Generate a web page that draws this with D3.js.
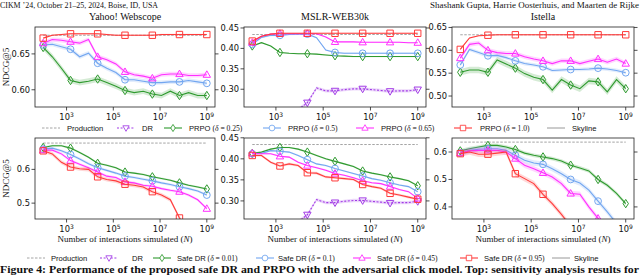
<!DOCTYPE html>
<html>
<head>
<meta charset="utf-8">
<script src="https://cdn.jsdelivr.net/npm/d3@7"></script>
<style>
  body { margin: 0; background: #fff; }
  svg { display: block; }
</style>
</head>
<body>
<div id="main"></div>
<script>
// log10(N) of every evaluation point; markers sit on every 3rd one
var nExp = [2.00, 2.39, 2.78, 3.17, 3.56, 3.94, 4.33, 4.72, 5.11, 5.50,
            5.89, 6.28, 6.67, 7.06, 7.44, 7.83, 8.22, 8.61, 9.00];

var datasets = ["Yahoo! Webscope", "MSLR-WEB30k", "Istella"];
var xTickExp = [3, 5, 7, 9];

var yTicksTop = [[0.60, 0.65], [0.30, 0.35, 0.40, 0.45], [0.50, 0.55, 0.60, 0.65]];
var yTicksBottom = [[0.5, 0.6], [0.30, 0.35, 0.40, 0.45], [0.4, 0.5, 0.6]];
var yRangeTop = [[0.576, 0.6875], [0.2565, 0.4524], [0.476, 0.651]];
var yRangeBottom = [[0.453, 0.693], [0.257, 0.4495], [0.356, 0.651]];

var productionTop = [0.676, 0.434, 0.634];
var productionBottom = [0.678, 0.434, 0.636];

// ---- top row: PRPO sensitivity ----
var yahooPRPO025 = [0.659, 0.646, 0.630, 0.613, 0.610, 0.612, 0.615, 0.610, 0.605, 0.599, 0.596, 0.598, 0.594, 0.592, 0.598, 0.592, 0.596, 0.592, 0.592];
var yahooPRPO05  = [0.6625, 0.6635, 0.660, 0.6565, 0.646, 0.651, 0.637, 0.630, 0.624, 0.614, 0.614, 0.612, 0.610, 0.610, 0.611, 0.611, 0.613, 0.611, 0.609];
var yahooPRPO065 = [0.665, 0.670, 0.669, 0.667, 0.665, 0.670, 0.646, 0.642, 0.636, 0.625, 0.621, 0.619, 0.616, 0.621, 0.622, 0.622, 0.620, 0.620, 0.621];
var yahooPRPO10  = [0.672, 0.676, 0.677, 0.678, 0.678, 0.678, 0.678, 0.677, 0.676, 0.676, 0.676, 0.676, 0.676, 0.677, 0.677, 0.677, 0.677, 0.677, 0.677];

var mslrDR       = [null, null, null, null, null, 0.250, 0.267, 0.303, 0.296, 0.296, 0.299, 0.301, 0.301, 0.299, 0.297, 0.295, 0.296, 0.296, 0.299];
var mslrPRPO025  = [0.406, 0.414, 0.406, 0.390, 0.388, 0.387, 0.387, 0.386, 0.384, 0.382, 0.381, 0.380, 0.380, 0.380, 0.380, 0.380, 0.380, 0.380, 0.380];
var mslrPRPO05   = [0.410, 0.427, 0.432, 0.432, 0.434, 0.435, 0.435, 0.426, 0.396, 0.390, 0.388, 0.388, 0.388, 0.388, 0.388, 0.388, 0.388, 0.388, 0.388];
var mslrPRPO065  = [0.414, 0.430, 0.435, 0.436, 0.436, 0.436, 0.436, 0.436, 0.428, 0.416, 0.416, 0.416, 0.415, 0.415, 0.415, 0.415, 0.415, 0.414, 0.414];
var mslrPRPO10   = [0.418, 0.430, 0.435, 0.437, 0.437, 0.437, 0.437, 0.437, 0.437, 0.437, 0.437, 0.437, 0.437, 0.437, 0.437, 0.437, 0.437, 0.437, 0.437];

var istellaPRPO025 = [0.552, 0.557, 0.557, 0.552, 0.579, 0.570, 0.561, 0.549, 0.541, 0.536, 0.513, 0.536, 0.524, 0.516, 0.533, 0.531, 0.509, 0.536, 0.516];
var istellaPRPO05  = [0.568, 0.602, 0.595, 0.588, 0.589, 0.584, 0.577, 0.571, 0.568, 0.564, 0.556, 0.557, 0.558, 0.558, 0.559, 0.561, 0.559, 0.556, 0.551];
var istellaPRPO065 = [0.583, 0.613, 0.616, 0.600, 0.595, 0.593, 0.593, 0.586, 0.581, 0.577, 0.571, 0.577, 0.577, 0.571, 0.576, 0.581, 0.574, 0.581, 0.571];
var istellaPRPO10  = [0.602, 0.627, 0.632, 0.633, 0.634, 0.634, 0.634, 0.634, 0.634, 0.634, 0.634, 0.634, 0.634, 0.634, 0.634, 0.634, 0.634, 0.634, 0.634];

// ---- bottom row: safe DR ----
var yahooSafe001 = [0.665, 0.670, 0.670, 0.663, 0.650, 0.636, 0.618, 0.612, 0.605, 0.592, 0.589, 0.585, 0.578, 0.573, 0.568, 0.560, 0.553, 0.548, 0.542];
var yahooSafe01  = [0.660, 0.663, 0.655, 0.644, 0.631, 0.617, 0.605, 0.597, 0.589, 0.580, 0.576, 0.571, 0.566, 0.560, 0.555, 0.5485, 0.543, 0.536, 0.524];
var yahooSafe045 = [0.657, 0.657, 0.646, 0.626, 0.615, 0.605, 0.592, 0.580, 0.576, 0.563, 0.560, 0.553, 0.550, 0.543, 0.538, 0.534, 0.524, 0.510, 0.4835];
var yahooSafe095 = [0.655, 0.646, 0.621, 0.607, 0.602, 0.600, 0.578, 0.570, 0.566, 0.556, 0.553, 0.548, 0.534, 0.524, 0.510, 0.456, 0.420, null, null];

var mslrSafe001 = [0.413, 0.416, 0.423, 0.427, 0.427, 0.423, 0.416, 0.408, 0.400, 0.394, 0.388, 0.382, 0.371, 0.366, 0.362, 0.357, 0.353, 0.348, 0.336];
var mslrSafe01  = [0.412, 0.413, 0.4195, 0.418, 0.416, 0.408, 0.398, 0.388, 0.384, 0.377, 0.371, 0.365, 0.359, 0.353, 0.349, 0.343, 0.338, 0.334, 0.322];
var mslrSafe045 = [0.413, 0.412, 0.412, 0.406, 0.404, 0.392, 0.384, 0.379, 0.373, 0.365, 0.361, 0.355, 0.348, 0.343, 0.341, 0.334, 0.327, 0.322, 0.306];
var mslrSafe095 = [0.408, 0.408, 0.392, 0.383, 0.388, 0.384, 0.367, 0.366, 0.357, 0.355, 0.353, 0.351, 0.339, 0.334, 0.330, 0.318, 0.314, 0.309, 0.304];

var istellaSafe001 = [0.604, 0.612, 0.618, 0.624, 0.624, 0.618, 0.609, 0.596, 0.588, 0.582, 0.576, 0.567, 0.552, 0.542, 0.531, 0.500, 0.479, 0.449, 0.412];
var istellaSafe01  = [0.596, 0.606, 0.610, 0.612, 0.612, 0.606, 0.588, 0.570, 0.560, 0.555, 0.539, 0.521, 0.500, 0.487, 0.461, 0.421, 0.382, 0.340, 0.300];
var istellaSafe045 = [0.596, 0.604, 0.606, 0.606, 0.606, 0.600, 0.576, 0.552, 0.539, 0.524, 0.509, 0.485, 0.449, 0.446, 0.400, 0.358, 0.310, null, null];
var istellaSafe095 = [0.594, 0.600, 0.592, 0.592, 0.596, 0.600, 0.521, 0.503, 0.485, 0.446, 0.412, 0.373, 0.330, null, null, null, null, null, null];

var legendTop = ["Production", "DR", "PRPO|0.25", "PRPO|0.5", "PRPO|0.65", "PRPO|1.0", "Skyline"];
var legendBottom = ["Production", "DR", "Safe DR|0.01", "Safe DR|0.1", "Safe DR|0.45", "Safe DR|0.95", "Skyline"];

// styles
var colors = { dr: "#a23be6", green: "#2f9a2f", blue: "#72a6f0", magenta: "#ff30ff", red: "#ff3a3a", prod: "#9a9a9a", sky: "#8c8c8c" };
var markers = {
  square: "M-3.2,-3.2h6.4v6.4h-6.4Z",
  circle: "M3.4,0A3.4,3.4,0,1,1,-3.4,0A3.4,3.4,0,1,1,3.4,0Z",
  up: "M0,-3.9L3.7,2.6L-3.7,2.6Z",
  down: "M0,3.9L3.7,-2.6L-3.7,-2.6Z",
  diamond: "M0,-4.2L2.7,0L0,4.2L-2.7,0Z"
};
var styles = [
  { color: colors.dr, marker: "down", dash: "2,1.6" },
  { color: colors.green, marker: "diamond" },
  { color: colors.blue, marker: "circle" },
  { color: colors.magenta, marker: "up" },
  { color: colors.red, marker: "square" }
];

var panels = [
  { row: 0, col: 0, series: [null, yahooPRPO025, yahooPRPO05, yahooPRPO065, yahooPRPO10], band: [0, 0.004, 0.003, 0.003, 0.0012] },
  { row: 0, col: 1, series: [mslrDR, mslrPRPO025, mslrPRPO05, mslrPRPO065, mslrPRPO10], band: [0.004, 0.0015, 0.002, 0.0015, 0.0012] },
  { row: 0, col: 2, series: [null, istellaPRPO025, istellaPRPO05, istellaPRPO065, istellaPRPO10], band: [0, 0.007, 0.004, 0.005, 0.0015] },
  { row: 1, col: 0, series: [null, yahooSafe001, yahooSafe01, yahooSafe045, yahooSafe095], band: [0, 0.003, 0.004, 0.004, 0.006] },
  { row: 1, col: 1, series: [mslrDR, mslrSafe001, mslrSafe01, mslrSafe045, mslrSafe095], band: [0.004, 0.002, 0.002, 0.002, 0.003] },
  { row: 1, col: 2, series: [null, istellaSafe001, istellaSafe01, istellaSafe045, istellaSafe095], band: [0, 0.007, 0.010, 0.010, 0.010] }
];

var W = 640, H = 276;
var colLeft = [35, 244, 452], colWidth = [180, 182, 182];
var rowTop = [27, 138], rowBottom = [107, 219];

var svg = d3.select("#main").append("svg")
  .attr("width", W).attr("height", H);

var serif = "'Liberation Serif', 'DejaVu Serif', serif";
var sans = "'DejaVu Sans', sans-serif";

// running header
svg.append("text").attr("x", 0).attr("y", 7.5)
  .attr("textLength", 158).attr("lengthAdjust", "spacingAndGlyphs")
  .style("font-family", serif).style("font-size", "7.8px").attr("fill", "#111")
  .text("CIKM ’24, October 21–25, 2024, Boise, ID, USA");
svg.append("text").attr("x", 430).attr("y", 7.5)
  .attr("textLength", 209).attr("lengthAdjust", "spacingAndGlyphs")
  .style("font-family", serif).style("font-size", "7.8px").attr("fill", "#111")
  .text("Shashank Gupta, Harrie Oosterhuis, and Maarten de Rijke");

panels.forEach(function (p, pi) {
  var x0 = colLeft[p.col], w = colWidth[p.col];
  var y0 = rowTop[p.row], y1 = rowBottom[p.row];
  var yr = p.row === 0 ? yRangeTop[p.col] : yRangeBottom[p.col];
  var ticks = p.row === 0 ? yTicksTop[p.col] : yTicksBottom[p.col];
  var prod = p.row === 0 ? productionTop[p.col] : productionBottom[p.col];

  var x = d3.scaleLog().domain([Math.pow(10, 1.65), Math.pow(10, 9.35)]).range([x0, x0 + w]);
  var y = d3.scaleLinear().domain(yr).range([y1, y0]);

  svg.append("clipPath").attr("id", "clip" + pi)
    .append("rect").attr("x", x0).attr("y", y0).attr("width", w).attr("height", y1 - y0);

  var g = svg.append("g").attr("clip-path", "url(#clip" + pi + ")");

  // production reference
  g.append("line")
    .attr("x1", x(Math.pow(10, 2))).attr("x2", x(Math.pow(10, 9)))
    .attr("y1", y(prod)).attr("y2", y(prod))
    .attr("stroke", colors.prod).attr("stroke-width", 0.9).attr("stroke-dasharray", "2.5,1.5");

  p.series.forEach(function (vals, si) {
    if (!vals) return;
    var st = styles[si];
    var pts = vals.map(function (v, i) { return { n: Math.pow(10, nExp[i]), v: v, i: i }; })
      .filter(function (d) { return d.v !== null; });
    var b = p.band[si];

    g.append("path").datum(pts)
      .attr("fill", st.color).attr("opacity", 0.2)
      .attr("d", d3.area()
        .x(function (d) { return x(d.n); })
        .y0(function (d) { return y(d.v - b); })
        .y1(function (d) { return y(d.v + b); }));

    g.append("path").datum(pts)
      .attr("fill", "none").attr("stroke", st.color).attr("stroke-width", 1.1)
      .attr("stroke-dasharray", st.dash || null)
      .attr("d", d3.line()
        .x(function (d) { return x(d.n); })
        .y(function (d) { return y(d.v); }));

    g.selectAll(null)
      .data(pts.filter(function (d) { return d.i % 3 === 0; }))
      .enter().append("path")
      .attr("transform", function (d) { return "translate(" + x(d.n) + "," + y(d.v) + ")"; })
      .attr("d", markers[st.marker])
      .attr("fill", "none").attr("stroke", st.color).attr("stroke-width", 1);
  });

  // frame
  svg.append("rect").attr("x", x0).attr("y", y0).attr("width", w).attr("height", y1 - y0)
    .attr("fill", "none").attr("stroke", "#222").attr("stroke-width", 0.8);

  // y ticks: labels on the left, bare ticks on the right
  var fmt = p.row === 1 && p.col !== 1 ? d3.format(".1f") : d3.format(".2f");
  ticks.forEach(function (t) {
    svg.append("line").attr("x1", x0 - 3.5).attr("x2", x0).attr("y1", y(t)).attr("y2", y(t))
      .attr("stroke", "#222").attr("stroke-width", 0.8);
    svg.append("line").attr("x1", x0 + w).attr("x2", x0 + w + 3.5).attr("y1", y(t)).attr("y2", y(t))
      .attr("stroke", "#222").attr("stroke-width", 0.8);
    svg.append("text").attr("x", x0 - 5).attr("y", y(t) + 3)
      .attr("text-anchor", "end").style("font-family", sans).style("font-size", "8.3px").attr("fill", "#111")
      .text(fmt(t));
  });

  // x ticks
  xTickExp.forEach(function (e) {
    var xx = x(Math.pow(10, e));
    svg.append("line").attr("x1", xx).attr("x2", xx).attr("y1", y1).attr("y2", y1 + 3.5)
      .attr("stroke", "#222").attr("stroke-width", 0.8);
    var t = svg.append("text").attr("x", xx).attr("y", y1 + 13)
      .attr("text-anchor", "middle").style("font-family", sans).style("font-size", "8.3px").attr("fill", "#111");
    t.append("tspan").text("10");
    t.append("tspan").attr("dy", -3.5).style("font-size", "6px").text(e);
  });

  if (p.row === 0) {
    svg.append("text").attr("x", x0 + w / 2).attr("y", 20).attr("text-anchor", "middle")
      .style("font-family", serif).style("font-size", "10px").attr("fill", "#111")
      .text(datasets[p.col]);
  } else {
    var lab = svg.append("text").attr("x", x0 + w / 2).attr("y", 242).attr("text-anchor", "middle")
      .style("font-family", serif).style("font-size", "9px").attr("fill", "#111");
    lab.append("tspan").text("Number of interactions simulated (");
    lab.append("tspan").style("font-style", "italic").text("N");
    lab.append("tspan").text(")");
  }
  if (p.col === 0) {
    svg.append("text")
      .attr("transform", "translate(9," + ((y0 + y1) / 2) + ") rotate(-90)")
      .attr("text-anchor", "middle").style("font-family", serif).style("font-size", "9px").attr("fill", "#111")
      .text("NDCG@5");
  }
});

// legends
function legend(labels, cy, lineX, textX) {
  labels.forEach(function (lbl, i) {
    var lx = lineX[i];
    var g = svg.append("g");
    if (i === 0 || i === 6) {
      g.append("line").attr("x1", lx).attr("x2", lx + 18).attr("y1", cy).attr("y2", cy)
        .attr("stroke", i === 0 ? colors.prod : colors.sky).attr("stroke-width", 0.9)
        .attr("stroke-dasharray", i === 0 ? "2.5,1.5" : null);
    } else {
      var st = styles[i - 1];
      g.append("line").attr("x1", lx).attr("x2", lx + 18).attr("y1", cy).attr("y2", cy)
        .attr("stroke", st.color).attr("stroke-width", 1.1).attr("stroke-dasharray", st.dash || null);
      g.append("path").attr("transform", "translate(" + (lx + 9) + "," + cy + ") scale(0.85)")
        .attr("d", markers[st.marker]).attr("fill", "#fff").attr("stroke", st.color).attr("stroke-width", 1);
    }
    var parts = lbl.split("|");
    var t = g.append("text").attr("x", textX[i]).attr("y", cy + 2.7)
      .style("font-family", "'Liberation Sans', sans-serif").style("font-size", "7.6px").attr("fill", "#111");
    t.append("tspan").text(parts[0]);
    if (parts.length > 1) {
      t.append("tspan").style("font-family", serif).text(" (");
      t.append("tspan").style("font-family", serif).style("font-style", "italic").text("δ");
      t.append("tspan").style("font-family", serif).text(" = " + parts[1] + ")");
    }
  });
}
legend(legendTop, 128, [42, 117, 164, 263, 356, 454, 547], [67, 142, 189, 288, 381, 480, 572]);
legend(legendBottom, 258, [27, 100, 153, 256, 353, 460, 552], [51, 132, 177, 278, 377, 484, 574]);

// caption
svg.append("text").attr("x", 0).attr("y", 273)
  .attr("textLength", 639).attr("lengthAdjust", "spacingAndGlyphs")
  .style("font-family", serif).style("font-size", "9.8px").style("font-weight", "bold").attr("fill", "#111")
  .text("Figure 4: Performance of the proposed safe DR and PRPO with the adversarial click model. Top: sensitivity analysis results for");
</script>
</body>
</html>
